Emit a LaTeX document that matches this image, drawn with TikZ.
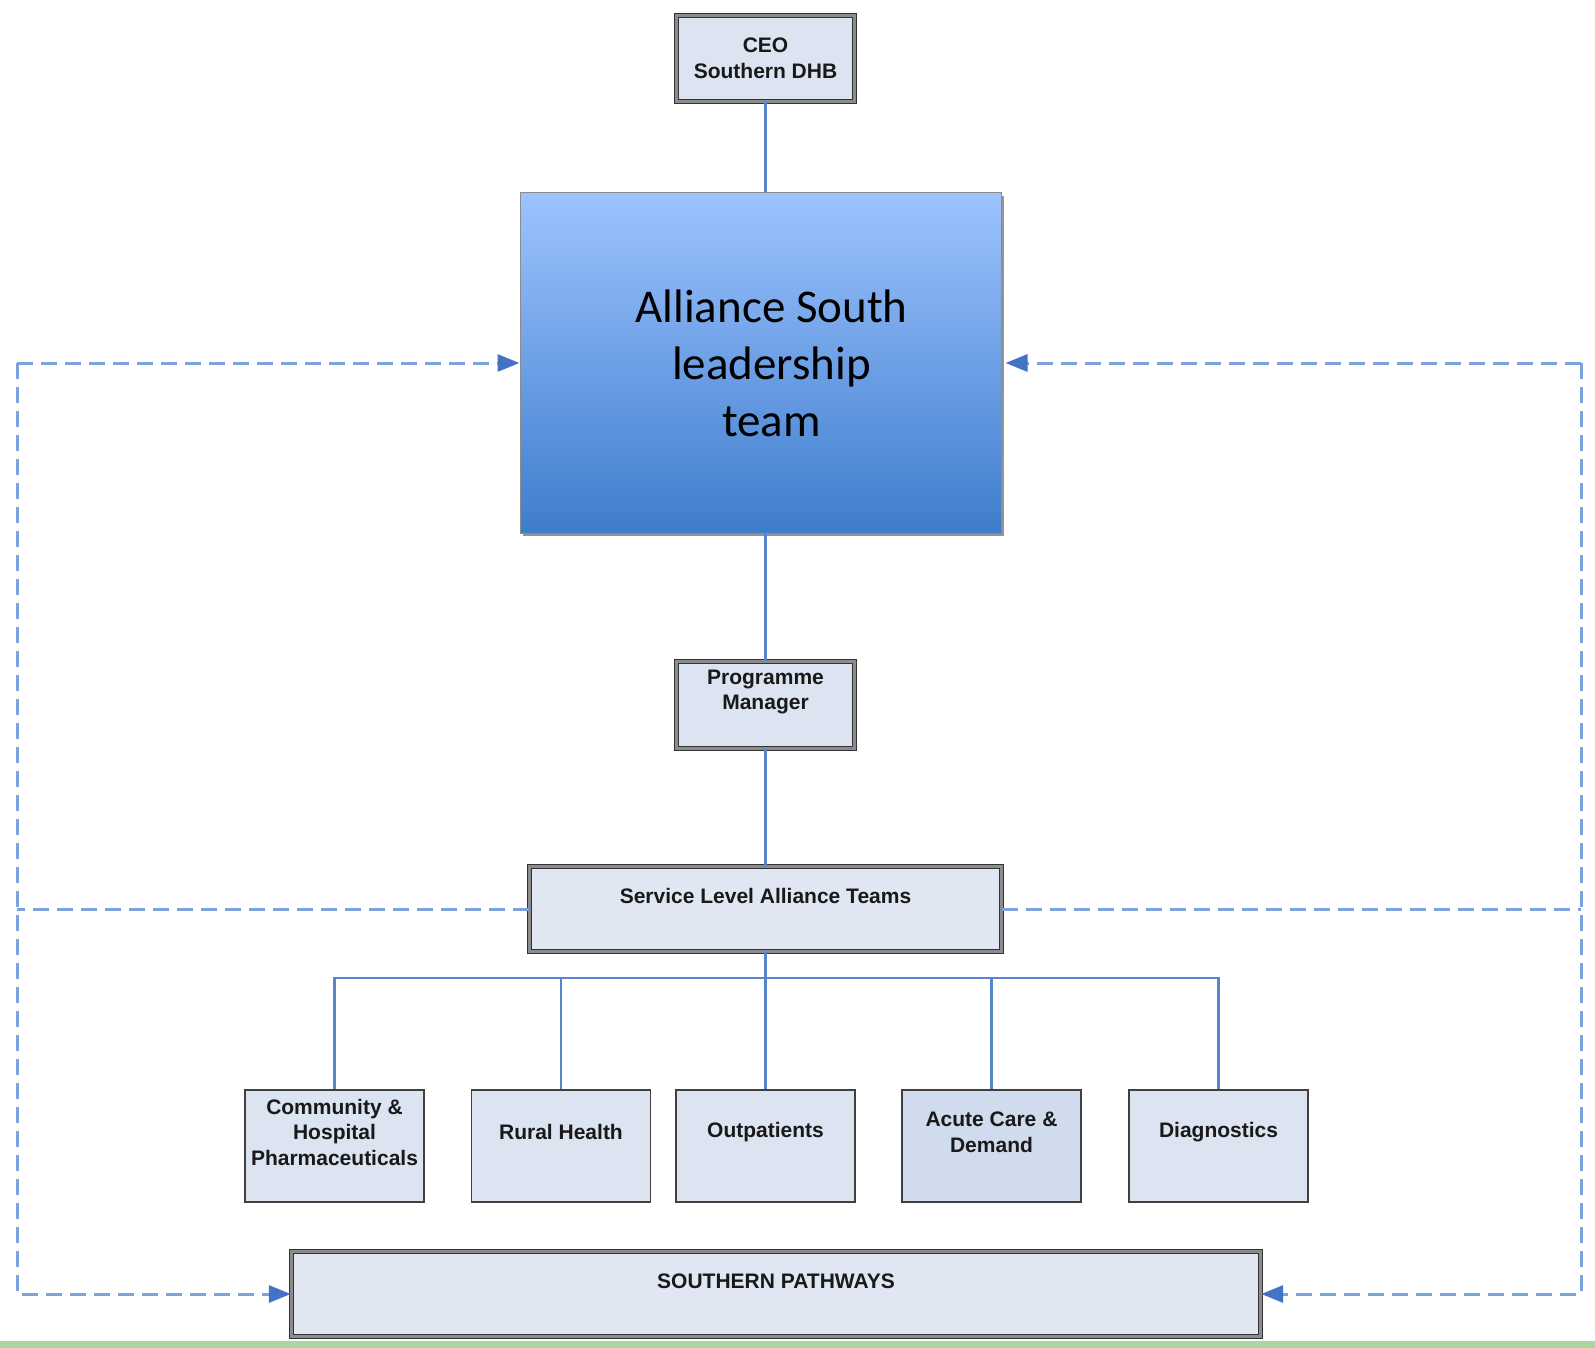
\documentclass[tikz,border=0pt]{standalone}
\usepackage{fontspec}
\setmainfont{Liberation Sans}
\newfontfamily\carlito{Carlito}
\usetikzlibrary{arrows.meta,shadows}
\definecolor{boxfill}{RGB}{220,227,241}
\definecolor{boxlight}{RGB}{225,231,242}
\definecolor{boxdark}{RGB}{208,219,237}
\definecolor{linkblue}{RGB}{86,133,205}
\definecolor{dashblue}{RGB}{125,163,220}
\definecolor{tipblue}{RGB}{68,114,196}
\definecolor{topblue}{RGB}{157,195,255}
\definecolor{botblue}{RGB}{62,125,204}
\definecolor{greenbar}{RGB}{170,214,160}
\definecolor{txt}{RGB}{25,25,25}
\begin{document}
\begin{tikzpicture}[x=1pt,y=-1pt,>={Triangle[length=22pt,width=17pt,color=tipblue]},
  box/.style={draw=black!75,line width=1.8pt,fill=boxfill,minimum width=179pt,minimum height=112pt,inner sep=0pt},
  dbox/.style={draw=black!80,double=black!45,line width=1.4pt,double distance=2.2pt,fill=boxlight,inner sep=0pt},
  boxtext/.style={font=\bfseries\fontsize{21}{25.5}\selectfont,text=txt,align=center,inner sep=0pt},
  link/.style={draw=linkblue,line width=2.3pt},
  dashlink/.style={draw=dashblue,line width=3pt,dash pattern=on 16pt off 8pt}]
\useasboundingbox (0,0) rectangle (1595,1348);
\fill[greenbar] (0,1341) rectangle (1595,1348);
\node[dbox,fill=boxfill,minimum width=178pt,minimum height=86pt,boxtext,draw=black!80] (ceo) at (765.5,58.5) {CEO\\Southern DHB};
\node[draw=black!45,line width=1pt,top color=topblue,bottom color=botblue,minimum width=481pt,minimum height=340pt,
  drop shadow={shadow xshift=3pt,shadow yshift=-3pt,fill=black!70,opacity=.6}] (alliance) at (760.5,363) {};
\node[font=\carlito\fontsize{47}{57}\selectfont,align=center,text=black] (alliancet) at ([xshift=11pt]alliance.center) {Alliance South\\leadership\\team};
\node[dbox,fill=boxfill,minimum width=178pt,minimum height=87pt] (pm) at (765.5,705) {};
\node[boxtext] (pmt) at ([yshift=-31pt]pm.north) {Programme\\Manager};
\node[dbox,minimum width=472pt,minimum height=85pt] (sla) at (765.5,909) {};
\node[boxtext] (slat) at ([yshift=-30pt]sla.north) {Service Level Alliance Teams};
\node[box] (comm) at (334.5,1146) {};
\node[box] (rural) at (561,1146) {};
\node[box] (outp) at (765.5,1146) {};
\node[box,fill=boxdark] (acute) at (991.5,1146) {};
\node[box] (diag) at (1218.5,1146) {};
\node[boxtext] at ([yshift=-43pt]comm.north) {Community \&\\Hospital\\Pharmaceuticals};
\node[boxtext] at ([yshift=-43pt]rural.north) {Rural Health};
\node[boxtext] at ([yshift=-43pt]outp.north) {Outpatients};
\node[boxtext] at ([yshift=-43pt]acute.north) {Acute Care \&\\Demand};
\node[boxtext] at ([yshift=-43pt]diag.north) {Diagnostics};
\node[dbox,minimum width=969pt,minimum height=85pt] (sp) at (776,1294) {};
\node[boxtext] (spt) at ([yshift=-30pt]sp.north) {SOUTHERN PATHWAYS};
\coordinate (bus) at (765.5,978);
\coordinate (lt) at (17,363);
\coordinate (rt) at (1581,363);
\draw[link] (ceo.south) -- (ceo.south |- alliance.north);
\draw[link] (pm.north |- alliance.south) -- (pm.north);
\draw[link] (pm.south) -- (sla.north);
\foreach \n in {comm,rural,outp,acute,diag}
  \draw[link] (sla.south) -- (bus) -| (\n.north);
\draw[dashlink,->] (lt) -- (alliance.west);
\draw[dashlink,->] (lt) |- (sp.west);
\draw[dashlink] (sla.west) -- (sla.west -| lt);
\draw[dashlink,->] (rt) -- ([xshift=4pt]alliance.east);
\draw[dashlink,->] (rt) |- (sp.east);
\draw[dashlink] (sla.east) -- (sla.east -| rt);
\end{tikzpicture}
\end{document}
